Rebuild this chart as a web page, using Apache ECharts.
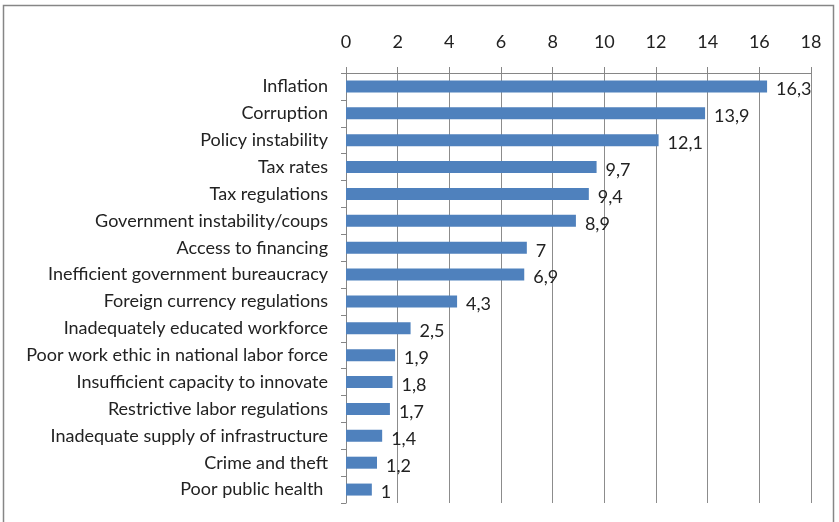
<!DOCTYPE html>
<html><head><meta charset="utf-8">
<script src="https://cdn.jsdelivr.net/npm/echarts@6/dist/echarts.min.js"></script>
<style>html,body{margin:0;padding:0;background:#fff}#c{width:839px;height:522px}</style>
</head><body><div id="c"></div>
<script>
const categories = ["Inflation","Corruption","Policy instability","Tax rates","Tax regulations","Government instability/coups","Access to financing","Inefficient government bureaucracy","Foreign currency regulations","Inadequately educated workforce","Poor work ethic in national labor force","Insufficient capacity to innovate","Restrictive labor regulations","Inadequate supply of infrastructure","Crime and theft","Poor public health "];
const values = [16.3,13.9,12.1,9.7,9.4,8.9,7,6.9,4.3,2.5,1.9,1.8,1.7,1.4,1.2,1];
const xTicks = [0,2,4,6,8,10,12,14,16,18];
const font = "Lato, 'Open Sans', sans-serif";
const chart = echarts.init(document.getElementById('c'), null, {renderer:'canvas'});
chart.setOption({
  animation:false,
  graphic:[{type:'rect',shape:{x:3.5,y:5.5,width:830,height:530},style:{fill:'none',stroke:'#868686',lineWidth:1.5},silent:true}],
  grid:{left:346,right:28,top:73,bottom:19,containLabel:false},
  xAxis:{type:'value',position:'top',min:xTicks[0],max:xTicks[xTicks.length-1],interval:2,
    axisLine:{show:true,lineStyle:{color:'#868686',width:1}},
    axisTick:{show:true,length:6,lineStyle:{color:'#868686'}},
    splitLine:{show:true,lineStyle:{color:'#8c8c8c',width:1}},
    axisLabel:{color:'#222',fontSize:18,fontFamily:font,margin:22,formatter:v=>String(v)}},
  yAxis:{type:'category',data:categories,inverse:true,
    axisLine:{show:true,lineStyle:{color:'#868686'}},
    axisTick:{show:true,length:5,lineStyle:{color:'#868686'}},
    axisLabel:{color:'#222',fontSize:18,fontFamily:font,margin:18}},
  series:[{type:'bar',data:values,barWidth:12,
    itemStyle:{color:'#4f81bd'},
    label:{show:true,position:'right',distance:9,color:'#222',fontSize:18,fontFamily:font,offset:[0,3],
      formatter:p=>String(p.value).replace('.',',')}}]
});
</script></body></html>
